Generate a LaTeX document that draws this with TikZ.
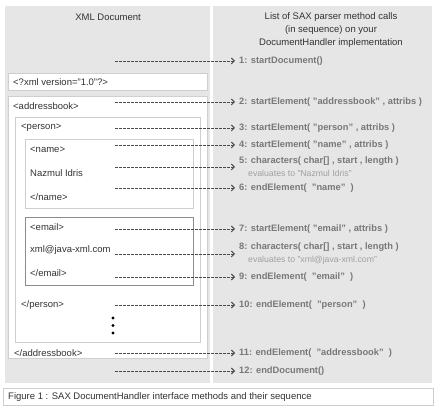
\documentclass[tikz,border=0pt]{standalone}
\usepackage{fontspec}
\setmainfont{Liberation Sans}
\usepackage{xcolor}
\usetikzlibrary{arrows.meta}
\definecolor{panelcolor}{HTML}{E6E6E6}
\definecolor{boxline}{HTML}{CFCFCF}
\definecolor{emailline}{HTML}{8C8C8C}
\definecolor{tagcolor}{HTML}{333333}
\definecolor{callcolor}{HTML}{787878}
\definecolor{evalcolor}{HTML}{A0A0A0}
\definecolor{arrowcolor}{HTML}{4A4A4A}
\newcommand{\evalnotefont}{\fontsize{8.7}{13}\selectfont\mdseries\color{evalcolor}}

\begin{document}
\begin{tikzpicture}[x=1pt, y=-1pt,
  panel/.style={fill=panelcolor},
  tagbox/.style={draw=boxline, fill=white, line width=0.8pt},
  tag/.style={anchor=west, inner sep=0pt, text=tagcolor, font=\fontsize{9.5}{13}\selectfont},
  head/.style={inner sep=0pt, text=tagcolor, align=center, font=\fontsize{9.5}{13}\selectfont},
  call/.style={anchor=west, inner sep=0pt, text=callcolor, align=left, font=\fontsize{9.3}{13}\selectfont\bfseries},
  seq/.style={draw=arrowcolor, line width=0.9pt, dash pattern=on 2.6pt off 1.4pt, -{Straight Barb[length=3pt, width=6pt]}, shorten >=4pt}]
\useasboundingbox (0,0) rectangle (442,419);%
% two panels
\fill[panel] (5,6) rectangle (210,383);%
\fill[panel] (213,6) rectangle (432,383);%
% nested xml boxes
\draw[tagbox] (8,73) rectangle (207,90);%
\draw[tagbox] (8,96) rectangle (207,358);%
\draw[tagbox] (15,117) rectangle (200,342);%
\draw[tagbox] (25,139) rectangle (193,208);%
\draw[tagbox, draw=emailline] (25,217) rectangle (193,285);%
% headings
\node[head] (xmlhead) at (108,17) {XML Document};%
\node[head] (callhead) at (331,30) {List of SAX parser method calls\\(in sequence) on your\\DocumentHandler implementation};%
% xml text
\node[tag] (decl) at (13,82) {<?xml version="1.0"?>};%
\node[tag] (bookopen) at (13,106) {<addressbook>};%
\node[tag] (personopen) at (21,128) {<person>};%
\node[tag] (nameopen) at (30,150) {<name>};%
\node[tag] (nametext) at (30,173) {Nazmul Idris};%
\node[tag] (nameclose) at (30,197) {</name>};%
\node[tag] (emailopen) at (30,227) {<email>};%
\node[tag] (emailtext) at (30,250) {xml@java-xml.com};%
\node[tag] (emailclose) at (30,273) {</email>};%
\node[tag] (personclose) at (21,305) {</person>};%
\node[tag] (bookclose) at (14,353) {</addressbook>};%
\fill[black] (113,318) circle (1.7);%
\fill[black] (113,325.5) circle (1.7);%
\fill[black] (113,333) circle (1.7);%
% method calls
\node[call] (m1) at (239,61) {1: startDocument()};%
\node[call] (m2) at (239,102) {2: startElement( "addressbook" , attribs )};%
\node[call] (m3) at (239,128) {3: startElement( "person" , attribs )};%
\node[call] (m4) at (239,145) {4: startElement( "name" , attribs )};%
\node[call] (m5) at (239,167) {5: characters( char[] , start , length )\\\hspace*{9pt}{\evalnotefont evaluates to "Nazmul Idris"}};%
\node[call] (m6) at (239,188) {6: endElement(\ \ "name"\ \ )};%
\node[call] (m7) at (239,229) {7: startElement( "email" , attribs )};%
\node[call] (m8) at (239,254) {8: characters( char[] , start , length )\\\hspace*{9pt}{\evalnotefont evaluates to "xml@java-xml.com"}};%
\node[call] (m9) at (239,277) {9: endElement(\ \ "email"\ \ )};%
\node[call] (m10) at (239,305) {10: endElement(\ \ "person"\ \ )};%
\node[call] (m11) at (239,353) {11: endElement(\ \ "addressbook"\ \ )};%
\node[call] (m12) at (239,371) {12: endDocument()};%
% arrow tails
\coordinate (s1) at (115,61);%
\coordinate (s2) at (115,102);%
\coordinate (s3) at (115,128);%
\coordinate (s4) at (115,145);%
\coordinate (s5) at (115,167);%
\coordinate (s6) at (115,188);%
\coordinate (s7) at (115,229);%
\coordinate (s8) at (115,254);%
\coordinate (s9) at (115,277);%
\coordinate (s10) at (115,305);%
\coordinate (s11) at (115,353);%
\coordinate (s12) at (115,371);%
\draw[seq] (s1) -- (m1.west);%
\draw[seq] (s2) -- (m2.west);%
\draw[seq] (s3) -- (m3.west);%
\draw[seq] (s4) -- (m4.west);%
\draw[seq] (s5) -- (s5 -| m5.west);%
\draw[seq] (s6) -- (m6.west);%
\draw[seq] (s7) -- (m7.west);%
\draw[seq] (s8) -- (s8 -| m8.west);%
\draw[seq] (s9) -- (m9.west);%
\draw[seq] (s10) -- (m10.west);%
\draw[seq] (s11) -- (m11.west);%
\draw[seq] (s12) -- (m12.west);%
% caption
\draw[draw=boxline, fill=white, line width=0.8pt] (3,388) rectangle (433,405);%
\node[tag] (caption) at (8,397) {Figure 1 : SAX DocumentHandler interface methods and their sequence};%
\end{tikzpicture}
\end{document}
